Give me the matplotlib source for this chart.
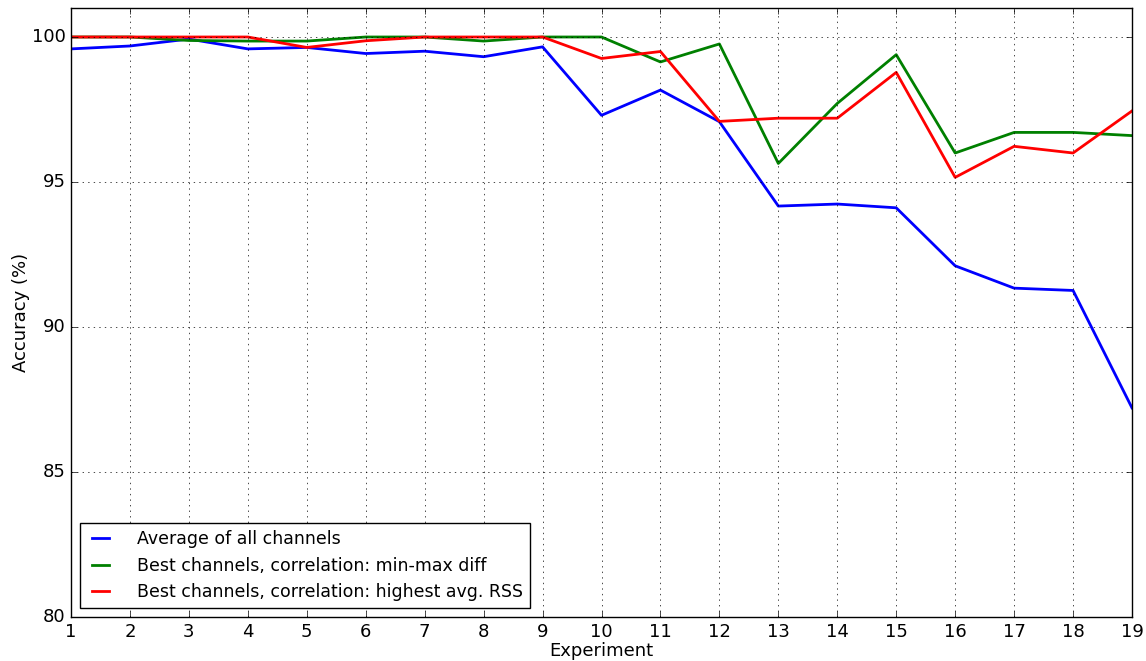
import matplotlib
matplotlib.use('Agg')
import matplotlib.pyplot as plt

plt.style.use('classic')

experiments = list(range(1, 20))

avg_all = [99.59, 99.69, 99.93, 99.59, 99.64, 99.43, 99.51, 99.32, 99.66, 97.30,
           98.17, 97.08, 94.17, 94.24, 94.11, 92.11, 91.34, 91.26, 87.21]
minmax_diff = [100.0, 100.0, 99.88, 99.86, 99.86, 100.0, 100.0, 99.86, 100.0, 100.0,
               99.14, 99.76, 95.64, 97.71, 99.39, 96.00, 96.71, 96.71, 96.60]
highest_rss = [100.0, 100.0, 100.0, 100.0, 99.64, 99.87, 100.0, 100.0, 100.0, 99.26,
               99.50, 97.09, 97.20, 97.20, 98.78, 95.16, 96.23, 96.00, 97.45]

labels = ['Average of all channels',
          'Best channels, correlation: min-max diff',
          'Best channels, correlation: highest avg. RSS']

fig = plt.figure(figsize=(11.46, 6.61), dpi=100, facecolor='white')
ax = fig.add_axes([71/1146, 44/661, 1061/1146, 609/661])

ax.plot(experiments, avg_all, color='b', lw=2, label=labels[0])
ax.plot(experiments, minmax_diff, color='g', lw=2, label=labels[1])
ax.plot(experiments, highest_rss, color='r', lw=2, label=labels[2])

ax.set_xlim(1, 19)
ax.set_ylim(80, 101)
ax.set_xticks(experiments)
ax.set_yticks([80, 85, 90, 95, 100])
ax.grid(True)
ax.set_xlabel('Experiment', fontsize=13, labelpad=1)
ax.set_ylabel('Accuracy (%)', fontsize=13, labelpad=1)
ax.tick_params(labelsize=13)
ax.legend(loc='lower left', fontsize=12.5, handlelength=1.6, handletextpad=1.3)

fig.savefig('out.png', dpi=100, facecolor='white')
